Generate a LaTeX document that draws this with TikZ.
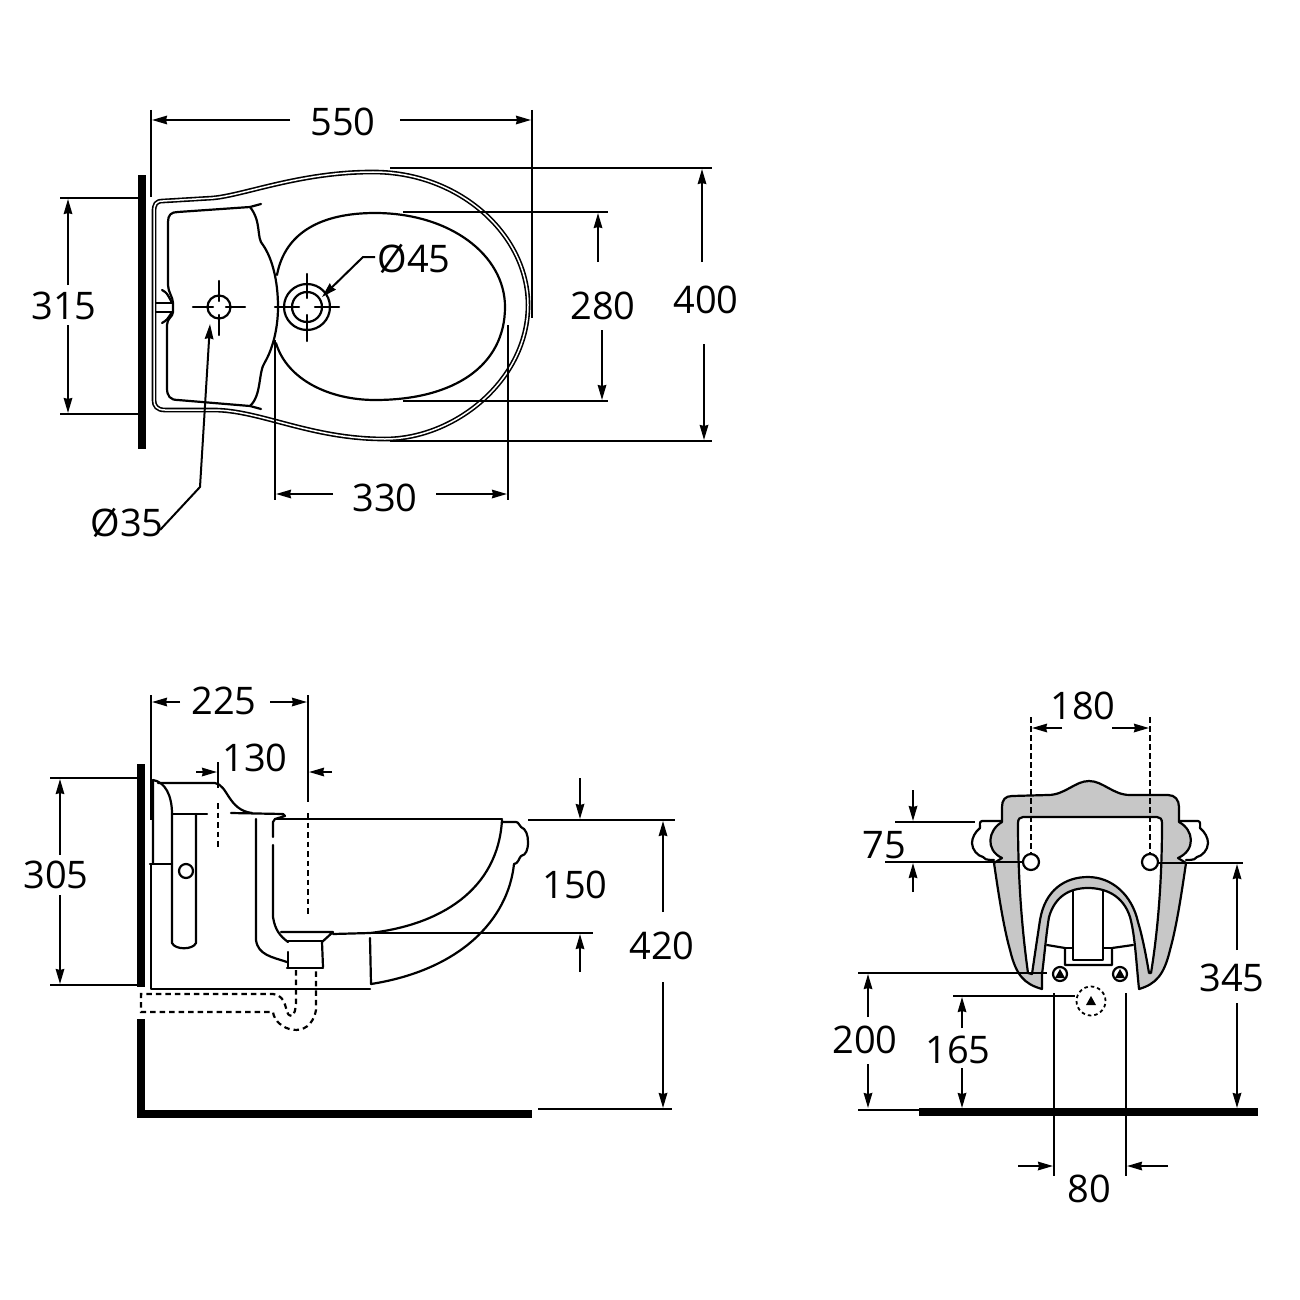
\documentclass[tikz,border=0pt]{standalone}
\usepackage{fontspec}
\setmainfont{Open Sans}
\usetikzlibrary{arrows.meta}
\tikzset{
  dimlabel/.style={inner sep=0pt,font=\fontsize{38}{40}\selectfont},
  dimline/.style={line width=2pt},
  dimarrow/.style={line width=2pt,-{Stealth[length=15pt,width=8.5pt,inset=1pt]}},
  ware/.style={line width=2.2pt,line join=round,line cap=round},
  hidden/.style={line width=2.2pt,dash pattern=on 5.5pt off 4pt},
  rim/.style={line width=1.6pt,double,double distance=1.5pt},
  wall/.style={fill=black,draw=none},
  tri/.style={fill=black,draw=none}
}
\begin{document}
\begin{tikzpicture}[x=1pt,y=-1pt]
  \useasboundingbox (0,0) rectangle (1300,1300);
  % top view
  \fill[wall] (138,175) rectangle (146,449);
  \draw[rim] (154,212) .. controls (154,204) and (156,201) .. (163,201) -- (213,198)
    .. controls (245,195) and (300,172) .. (373,172) .. controls (460,172) and (528,235) .. (528,305)
    .. controls (528,380) and (455,439) .. (385,439) .. controls (310,439) and (260,410) .. (213,410)
    -- (165,410) .. controls (157,410) and (154,406) .. (154,400) -- cycle;
  \draw[ware] (261,204) -- (250,207) -- (178,212) .. controls (171,212) and (168,215) .. (168,222) -- (168,285)
    .. controls (168,292) and (173,297) .. (173,303) -- (173,312) .. controls (173,317) and (167,318) .. (167,325)
    -- (167,388) .. controls (167,396) and (170,400) .. (178,400) -- (250,406) -- (261,409);
  \draw[ware] (250,207) .. controls (262,222) and (256,238) .. (263,245) .. controls (272,258) and (278,280) .. (278,307)
    .. controls (278,330) and (272,350) .. (265,362) .. controls (258,372) and (262,395) .. (250,406);
  \draw[ware] (277,275) .. controls (285,232) and (322,213) .. (375,213) .. controls (450,213) and (505,255) .. (505,307)
    .. controls (505,365) and (455,400) .. (375,400) .. controls (330,400) and (287,380) .. (276,343);
  \draw[ware] (156,303) -- (172,303) (156,312) -- (172,312);
  \draw[ware] (162,290) .. controls (167,293) .. (172,303);
  \draw[ware] (162,323) .. controls (167,320) .. (172,312);
  \draw[ware] (219,307) circle[radius=11.5pt];
  \draw[ware] (307,307) circle[radius=23pt] (307,307) circle[radius=15pt];
  \draw[ware] (193,307) -- (213,307) (226,307) -- (245,307) (219,281) -- (219,301) (219,315) -- (219,335);
  \draw[ware] (275,307) -- (299,307) (315,307) -- (339,307) (307,274) -- (307,298) (307,315) -- (307,341);

  \node[dimlabel] (l550) at (343,122) {550};
  \node[dimlabel] (l315) at (64,306) {315};
  \node[dimlabel] (l280) at (603,306) {280};
  \node[dimlabel] (l400) at (706,300) {400};
  \node[dimlabel] (l330) at (385,498) {330};
  \node[dimlabel] (lhole45) at (414,259) {Ø45};
  \node[dimlabel] (lhole35) at (127,523) {Ø35};

  \path
    (151,110) coordinate (e550a) (151,197) coordinate (e550b)
    (532,110) coordinate (e550c) (532,318) coordinate (e550d)
    (290,120) coordinate (a550a) (152,120) coordinate (a550b)
    (400,120) coordinate (a550c) (531,120) coordinate (a550d)
    (60,198) coordinate (e315a) (138,198) coordinate (e315b)
    (60,414) coordinate (e315c) (138,414) coordinate (e315d)
    (68,285) coordinate (a315a) (68,199) coordinate (a315b)
    (68,325) coordinate (a315c) (68,413) coordinate (a315d)
    (403,212) coordinate (e280a) (608,212) coordinate (e280b)
    (403,401) coordinate (e280c) (608,401) coordinate (e280d)
    (598,262) coordinate (a280a) (598,213) coordinate (a280b)
    (602,330) coordinate (a280c) (602,400) coordinate (a280d)
    (390,168) coordinate (e400a) (712,168) coordinate (e400b)
    (390,441) coordinate (e400c) (712,441) coordinate (e400d)
    (702,262) coordinate (a400a) (702,169) coordinate (a400b)
    (704,344) coordinate (a400c) (704,440) coordinate (a400d)
    (275,340) coordinate (e330a) (275,500) coordinate (e330b)
    (508,325) coordinate (e330c) (508,500) coordinate (e330d)
    (333,494) coordinate (a330a) (276,494) coordinate (a330b)
    (436,494) coordinate (a330c) (507,494) coordinate (a330d)
    (375,257) coordinate (m45a) (363,257) coordinate (m45b) (322,297) coordinate (m45c)
    (160,530) coordinate (m35a) (200,487) coordinate (m35b) (210,324) coordinate (m35c);
  \begin{scope}[dimline]
    \draw (e550a) to (e550b);
    \draw (e550c) to (e550d);
    \draw (e315a) to (e315b);
    \draw (e315c) to (e315d);
    \draw (e280a) to (e280b);
    \draw (e280c) to (e280d);
    \draw (e400a) to (e400b);
    \draw (e400c) to (e400d);
    \draw (e330a) to (e330b);
    \draw (e330c) to (e330d);
  \end{scope}
  \begin{scope}[dimarrow]
    \draw (a550a) to (a550b);
    \draw (a550c) to (a550d);
    \draw (a315a) to (a315b);
    \draw (a315c) to (a315d);
    \draw (a280a) to (a280b);
    \draw (a280c) to (a280d);
    \draw (a400a) to (a400b);
    \draw (a400c) to (a400d);
    \draw (a330a) to (a330b);
    \draw (a330c) to (a330d);
    \draw (m45a) -- (m45b) -- (m45c);
    \draw (m35a) -- (m35b) -- (m35c);
  \end{scope}

  % side view
  \fill[wall] (137,764) rectangle (145,987);
  \fill[wall] (137,1019) rectangle (145,1118);
  \fill[wall] (137,1110) rectangle (532,1118);
  \draw[ware] (153,864) -- (153,780) .. controls (165,782) and (172,795) .. (172,814) -- (172,943)
    .. controls (175,950) and (193,950) .. (196,943) -- (196,814);
  \draw[ware] (172,814) -- (207,814);
  \draw[ware] (158,783) -- (215,783) .. controls (228,785) and (228,810) .. (252,813);
  \draw[ware] (231,813) -- (283,814) -- (285,816) -- (275,819) -- (273,822) -- (273,837);
  \draw[ware] (275,819) -- (502,819);
  \draw[ware] (150,864) -- (172,864);
  \draw[ware] (151,864) -- (151,989) -- (370,989);
  \draw[ware] (186,871) circle[radius=7pt];
  \draw[ware] (256,819) -- (256,940) .. controls (258,955) and (272,957) .. (287,962);
  \draw[ware] (273,845) -- (273,917) .. controls (275,930) and (280,936) .. (288,942);
  \draw[ware] (281,932) -- (333,932) -- (322,942) -- (323,967);
  \draw[ware] (287,941) -- (323,941);
  \draw[ware] (288,952) -- (288,968);
  \draw[ware] (287,968) -- (323,968);
  \draw[ware] (333,934) -- (370,933) .. controls (440,925) and (498,890) .. (502,820);
  \draw[ware] (502,822) -- (516,822) .. controls (519,822) and (519,826) .. (521,827) .. controls (526,829) and (528,835) .. (528,842)
    .. controls (528,850) and (526,855) .. (521,856) .. controls (519,858) and (518,864) .. (514,864);
  \draw[ware] (514,864) .. controls (508,920) and (460,970) .. (371,984) -- (370,938);
  \draw[hidden] (296,970) -- (296,1003) .. controls (295,1012) .. (292,1016) .. controls (288,1015) .. (286,1008)
    .. controls (284,1000) and (280,994) .. (273,994) -- (141,994) -- (141,1012) -- (273,1012)
    .. controls (275,1030) and (310,1042) .. (316,1010) -- (316,970);

  \node[dimlabel] (l225) at (224,701) {225};
  \node[dimlabel] (l130) at (255,758) {130};
  \node[dimlabel] (l305) at (56,875) {305};
  \node[dimlabel] (l150) at (575,885) {150};
  \node[dimlabel] (l420) at (662,946) {420};

  \path
    (151,695) coordinate (e225a) (151,820) coordinate (e225b)
    (308,695) coordinate (e225c) (308,802) coordinate (e225d)
    (180,702) coordinate (a225a) (152,702) coordinate (a225b)
    (270,702) coordinate (a225c) (307,702) coordinate (a225d)
    (218,762) coordinate (e130a) (218,788) coordinate (e130b)
    (218,803) coordinate (e130c) (218,848) coordinate (e130d)
    (308,813) coordinate (e130e) (308,916) coordinate (e130f)
    (196,772) coordinate (a130a) (217,772) coordinate (a130b)
    (332,772) coordinate (a130c) (309,772) coordinate (a130d)
    (50,778) coordinate (e305a) (137,778) coordinate (e305b)
    (50,985) coordinate (e305c) (137,985) coordinate (e305d)
    (60,855) coordinate (a305a) (60,779) coordinate (a305b)
    (60,895) coordinate (a305c) (60,984) coordinate (a305d)
    (528,820) coordinate (e150a) (675,820) coordinate (e150b)
    (370,933) coordinate (e150c) (593,933) coordinate (e150d)
    (580,778) coordinate (a150a) (580,819) coordinate (a150b)
    (580,972) coordinate (a150c) (580,934) coordinate (a150d)
    (538,1109) coordinate (e420a) (672,1109) coordinate (e420b)
    (663,912) coordinate (a420a) (663,821) coordinate (a420b)
    (663,982) coordinate (a420c) (663,1108) coordinate (a420d);
  \begin{scope}[dimline]
    \draw (e225a) to (e225b);
    \draw (e225c) to (e225d);
    \draw (e130a) to (e130b);
    \draw (e305a) to (e305b);
    \draw (e305c) to (e305d);
    \draw (e150a) to (e150b);
    \draw (e150c) to (e150d);
    \draw (e420a) to (e420b);
  \end{scope}
  \draw[hidden] (e130c) to (e130d);
  \draw[hidden] (e130e) to (e130f);
  \begin{scope}[dimarrow]
    \draw (a225a) to (a225b);
    \draw (a225c) to (a225d);
    \draw (a130a) to (a130b);
    \draw (a130c) to (a130d);
    \draw (a305a) to (a305b);
    \draw (a305c) to (a305d);
    \draw (a150a) to (a150b);
    \draw (a150c) to (a150d);
    \draw (a420a) to (a420b);
    \draw (a420c) to (a420d);
  \end{scope}

  % rear view
  \fill[wall] (919,1108) rectangle (1258,1116);
  \draw[ware,fill=white] (1002,821) -- (982,821) .. controls (979,821) and (980,826) .. (980,828) .. controls (975,832) and (972,838) .. (972,843)
    .. controls (972,850) and (978,856) .. (983,857) .. controls (984,859) and (986,860) .. (994,860);
  \draw[ware,fill=white] (1179,821) -- (1198,821) .. controls (1201,821) and (1200,826) .. (1200,828) .. controls (1205,832) and (1208,838) .. (1208,843)
    .. controls (1208,850) and (1202,856) .. (1197,857) .. controls (1196,859) and (1194,860) .. (1186,860);
  \draw[ware,fill=black!22] (1042,989) .. controls (1024,984) and (1016,975) .. (1010,950) .. controls (1003,925) and (998,890) .. (994,863)
    -- (1002,858) .. controls (985,850) and (988,830) .. (1002,822) -- (1002,807)
    .. controls (1002,800) and (1005,796) .. (1012,796) -- (1048,795)
    .. controls (1065,795) and (1075,781) .. (1089,781) .. controls (1103,781) and (1113,795) .. (1130,795)
    -- (1168,795) .. controls (1175,795) and (1179,800) .. (1179,807) -- (1179,822)
    .. controls (1194,830) and (1196,850) .. (1178,858) -- (1186,863)
    .. controls (1182,890) and (1177,925) .. (1170,950) .. controls (1164,975) and (1156,984) .. (1139,989)
    .. controls (1136,960) and (1135,935) .. (1130,917) .. controls (1123,895) and (1105,888) .. (1088,888)
    .. controls (1070,888) and (1055,896) .. (1049,917) .. controls (1046,935) and (1044,960) .. (1042,974) -- cycle;
  \draw[ware,fill=white] (1028,973) .. controls (1022,930) and (1018,880) .. (1018,823) .. controls (1018,819) and (1020,817) .. (1023,817)
    -- (1157,817) .. controls (1160,817) and (1162,819) .. (1162,823) .. controls (1162,880) and (1158,930) .. (1151,973)
    -- (1149,973) .. controls (1146,955) and (1142,935) .. (1138,922) .. controls (1132,895) and (1112,877) .. (1088,877)
    .. controls (1065,877) and (1045,890) .. (1040,920) .. controls (1037,940) and (1034,960) .. (1032,974) -- cycle;
  \draw[ware] (1047,945) -- (1065,948) -- (1065,965) -- (1112,965) -- (1112,948) -- (1133,945);
  \draw[ware,fill=white] (1073,891) -- (1073,960) -- (1103,960) -- (1103,891);
  \draw[ware] (1065,948) -- (1073,948) (1103,948) -- (1112,948);
  \draw[ware,fill=white] (1031,862) circle[radius=8pt];
  \draw[ware,fill=white] (1150,862) circle[radius=8pt];
  \draw[ware] (1060,974) circle[radius=7pt];
  \draw[ware] (1120,974) circle[radius=7pt];
  \fill[tri] (1060,969) -- (1065,978) -- (1055,978) -- cycle;
  \fill[tri] (1120,969) -- (1125,978) -- (1115,978) -- cycle;
  \draw[line width=1.8pt,dash pattern=on 3.5pt off 3pt] (1091,1001) circle[radius=14.5pt];
  \fill[tri] (1091,996) -- (1096,1005) -- (1086,1005) -- cycle;

  \node[dimlabel] (l180) at (1083,706) {180};
  \node[dimlabel] (l75) at (884,845) {75};
  \node[dimlabel] (l345) at (1232,978) {345};
  \node[dimlabel] (l200) at (865,1040) {200};
  \node[dimlabel] (l165) at (958,1050) {165};
  \node[dimlabel] (l80) at (1089,1189) {80};

  \path
    (1031,717) coordinate (e180a) (1031,854) coordinate (e180b)
    (1150,717) coordinate (e180c) (1150,854) coordinate (e180d)
    (1062,728) coordinate (a180a) (1032,728) coordinate (a180b)
    (1112,728) coordinate (a180c) (1149,728) coordinate (a180d)
    (895,822) coordinate (e75a) (975,822) coordinate (e75b)
    (885,862) coordinate (e75c) (1023,862) coordinate (e75d)
    (913,790) coordinate (a75a) (913,821) coordinate (a75b)
    (913,892) coordinate (a75c) (913,863) coordinate (a75d)
    (1157,863) coordinate (e345a) (1243,863) coordinate (e345b)
    (1237,950) coordinate (a345a) (1237,864) coordinate (a345b)
    (1237,1003) coordinate (a345c) (1237,1108) coordinate (a345d)
    (858,973) coordinate (e200a) (1047,973) coordinate (e200b)
    (858,1110) coordinate (e200c) (919,1110) coordinate (e200d)
    (868,1017) coordinate (a200a) (868,974) coordinate (a200b)
    (868,1064) coordinate (a200c) (868,1108) coordinate (a200d)
    (953,996) coordinate (e165a) (1075,996) coordinate (e165b)
    (962,1028) coordinate (a165a) (962,997) coordinate (a165b)
    (962,1068) coordinate (a165c) (962,1108) coordinate (a165d)
    (1054,993) coordinate (e80a) (1054,1176) coordinate (e80b)
    (1126,993) coordinate (e80c) (1126,1176) coordinate (e80d)
    (1018,1166) coordinate (a80a) (1053,1166) coordinate (a80b)
    (1168,1166) coordinate (a80c) (1127,1166) coordinate (a80d);
  \begin{scope}[dimline]
    \draw[dash pattern=on 6pt off 3pt] (e180a) to (e180b);
    \draw[dash pattern=on 6pt off 3pt] (e180c) to (e180d);
    \draw (e75a) to (e75b);
    \draw (e75c) to (e75d);
    \draw (e345a) to (e345b);
    \draw (e200a) to (e200b);
    \draw (e200c) to (e200d);
    \draw (e165a) to (e165b);
    \draw (e80a) to (e80b);
    \draw (e80c) to (e80d);
  \end{scope}
  \begin{scope}[dimarrow]
    \draw (a180a) to (a180b);
    \draw (a180c) to (a180d);
    \draw (a75a) to (a75b);
    \draw (a75c) to (a75d);
    \draw (a345a) to (a345b);
    \draw (a345c) to (a345d);
    \draw (a200a) to (a200b);
    \draw (a200c) to (a200d);
    \draw (a165a) to (a165b);
    \draw (a165c) to (a165d);
    \draw (a80a) to (a80b);
    \draw (a80c) to (a80d);
  \end{scope}
\end{tikzpicture}
\end{document}
